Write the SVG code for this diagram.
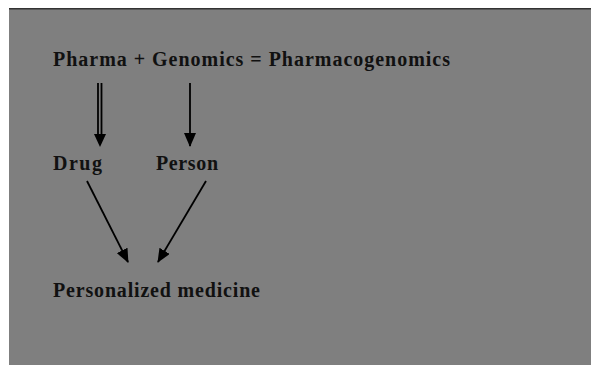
<svg xmlns="http://www.w3.org/2000/svg" width="591" height="365" viewBox="0 0 591 365">
<style>
.t{font-family:"Liberation Serif","Times New Roman",serif;font-weight:bold;font-size:20px;fill:#111}
.c{stroke:#000;stroke-width:1.8;fill:none}
</style>
<defs>
<marker id="ah" markerWidth="14" markerHeight="12" refX="13" refY="6" orient="auto" markerUnits="userSpaceOnUse" viewBox="0 0 14 12">
<path d="M0,0 L14,6 L0,12 Z" fill="#000"/>
</marker>
</defs>
<rect x="0" y="0" width="591" height="365" fill="#fff"/>
<rect x="9" y="8" width="582" height="357" fill="#7f7f7f"/>
<line x1="9" y1="8.8" x2="591" y2="8.8" stroke="#333" stroke-width="1.6"/>
<g id="title"><text class="t" x="53" y="66" textLength="397">Pharma + Genomics = Pharmacogenomics</text></g>
<g id="drug"><text class="t" x="53" y="170" textLength="49">Drug</text></g>
<g id="person"><text class="t" x="156" y="170" textLength="62">Person</text></g>
<g id="personalized"><text class="t" x="53" y="297" textLength="207">Personalized medicine</text></g>
<g id="connectors">
<line class="c" x1="98" y1="83" x2="98" y2="137"/>
<line class="c" x1="101.5" y1="83" x2="101.5" y2="137"/>
<path d="M94,134 L106,134 L100,147 Z" fill="#000"/>
<line class="c" x1="190" y1="83" x2="190" y2="146" marker-end="url(#ah)"/>
<line class="c" x1="87" y1="181" x2="128" y2="262" marker-end="url(#ah)"/>
<line class="c" x1="206" y1="181" x2="158" y2="262" marker-end="url(#ah)"/>
</g>
</svg>
